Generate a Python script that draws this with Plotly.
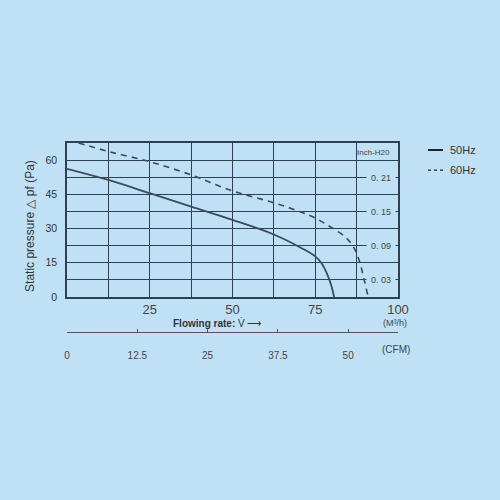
import plotly.graph_objects as go

# ---------------- data ----------------
flow_50 = [0, 12.5, 25, 37.5, 50, 62.3, 70.9, 74.9, 76.9, 78.5, 79.8, 80.7]
pa_50 = [56.2, 51.3, 45.5, 39.6, 33.8, 27.5, 21.4, 17.9, 14.8, 10.4, 5.3, 0]

flow_60 = [3.5, 12.5, 25, 37.5, 50, 62.5, 70.4, 75, 79.5, 84, 86.5, 88.4, 89.7, 91.0]
pa_60 = [67.5, 63.8, 59.3, 53.5, 46.5, 41.3, 37.4, 34.6, 30.8, 26.4, 22.0, 15.5, 8.0, 0]

x_grid = [0, 12.5, 25, 37.5, 50, 62.5, 75, 87.5, 100]
x_labels = ["", "", "25", "", "50", "", "75", "", "100"]
y_grid = [0, 7.5, 15, 22.5, 30, 37.5, 45, 52.5, 60, 67.5]
y_labels = ["0", "", "15", "", "30", "", "45", "", "60", ""]
cfm_ticks = [0, 12.5, 25, 37.5, 50]
cfm_labels = ["0", "12.5", "25", "37.5", "50"]
inch_vals = [0.21, 0.15, 0.09, 0.03]
inch_labels = ["0. 21", "0. 15", "0. 09", "0. 03"]
series_names = ["50Hz", "60Hz"]

M3H_PER_CFM = 1.699
PA_PER_INCH = 249.09

BG = "#c0e1f5"
GRID = "#2e4152"
CURVE = "#3a4b5c"
TXT = "#333333"
FONT = "Liberation Sans, Arial, sans-serif"

fig = go.Figure()
fig.add_trace(go.Scatter(x=flow_50, y=pa_50, mode="lines", name=series_names[0],
                         line=dict(color=CURVE, width=1.8, shape="spline", smoothing=1.0),
                         showlegend=False))
fig.add_trace(go.Scatter(x=flow_60, y=pa_60, mode="lines", name=series_names[1],
                         line=dict(color=CURVE, width=1.6, dash="6px,5px", shape="spline", smoothing=1.0),
                         showlegend=False))
# empty trace to activate the CFM axis
fig.add_trace(go.Scatter(x=[None], y=[None], xaxis="x2", yaxis="y", mode="lines",
                         showlegend=False, hoverinfo="skip"))

annotations = []
for v, t in zip(inch_vals, inch_labels):
    annotations.append(dict(x=100, xref="x", y=v * PA_PER_INCH, yref="y", text=t,
                            xanchor="right", yanchor="middle", xshift=-2, showarrow=False,
                            bgcolor=BG, width=28, height=11, borderpad=0,
                            font=dict(family=FONT, size=9, color="#444")))
annotations += [
    dict(x=92.7, xref="x", y=63.3, yref="y", text="Inch-H20", showarrow=False,
         xanchor="center", yanchor="middle", font=dict(family=FONT, size=8, color="#444")),
    dict(x=0.991, xref="paper", y=0.048, yref="paper", text="(M³/h)", showarrow=False,
         xanchor="center", yanchor="middle", font=dict(family=FONT, size=9, color="#444")),
    dict(x=0.452, xref="paper", y=0.048, yref="paper", text="<b>Flowing rate:</b> V̇ ⟶",
         xanchor="center", yanchor="middle", showarrow=False,
         font=dict(family=FONT, size=10, color=TXT)),
    dict(x=0.993, xref="paper", y=-0.09, yref="paper", text="(CFM)", showarrow=False,
         xanchor="center", yanchor="middle", font=dict(family=FONT, size=10, color="#444")),
    dict(x=-0.112, xref="paper", y=0.561, yref="paper", text="Static pressure △ pf (Pa)",
         xanchor="center", yanchor="middle", textangle=-90, showarrow=False,
         font=dict(family=FONT, size=12, color=TXT)),
    dict(x=1.151, xref="paper", y=0.963, yref="paper", text=series_names[0], xanchor="left",
         yanchor="middle", showarrow=False, font=dict(family=FONT, size=11, color=TXT)),
    dict(x=1.151, xref="paper", y=0.857, yref="paper", text=series_names[1], xanchor="left",
         yanchor="middle", showarrow=False, font=dict(family=FONT, size=11, color=TXT)),
]

shapes = [
    dict(type="line", xref="paper", yref="paper", x0=1.0906, x1=1.136, y0=0.963, y1=0.963,
         line=dict(color="#222", width=2)),
    dict(type="line", xref="paper", yref="paper", x0=1.0906, x1=1.136, y0=0.857, y1=0.857,
         line=dict(color="#222", width=1.2, dash="dot")),
]

fig.update_layout(
    width=500, height=500, autosize=False,
    margin=dict(l=67, r=102, t=143, b=168, pad=0),
    paper_bgcolor=BG, plot_bgcolor=BG,
    font=dict(family=FONT, color=TXT),
    showlegend=False,
    xaxis=dict(range=[0, 100], domain=[0, 1], anchor="y", tickmode="array",
               tickvals=x_grid, ticktext=x_labels, showgrid=True, gridcolor=GRID, gridwidth=1,
               showline=True, mirror=True, linecolor=GRID, linewidth=1.5, ticks="",
               zeroline=False, tickfont=dict(family=FONT, size=13, color="#444"),
               ticklabelstandoff=0),
    yaxis=dict(range=[0, 67.5], domain=[35 / 189, 1], tickmode="array", tickvals=y_grid,
               ticktext=y_labels, showgrid=True, gridcolor=GRID, gridwidth=1,
               showline=True, mirror=True, linecolor=GRID, linewidth=1.5, ticks="",
               zeroline=False, tickfont=dict(family=FONT, size=10.5, color=TXT),
               ticklabelstandoff=6),
    xaxis2=dict(range=[0, 100 / M3H_PER_CFM], overlaying="x", anchor="free", position=0,
                side="bottom", tickmode="array", tickvals=cfm_ticks, ticktext=cfm_labels,
                showgrid=False, zeroline=False, showline=True, linecolor="#555", linewidth=1,
                ticks="inside", ticklen=3, tickcolor="#555",
                tickfont=dict(family="Liberation Sans Narrow, Liberation Sans, Arial", size=10, color="#444"),
                ticklabelstandoff=14),
    annotations=annotations,
    shapes=shapes,
)

fig.write_html("out.html", config={"displayModeBar": False},
               post_script="document.body.style.margin='0';document.body.style.padding='0';")
